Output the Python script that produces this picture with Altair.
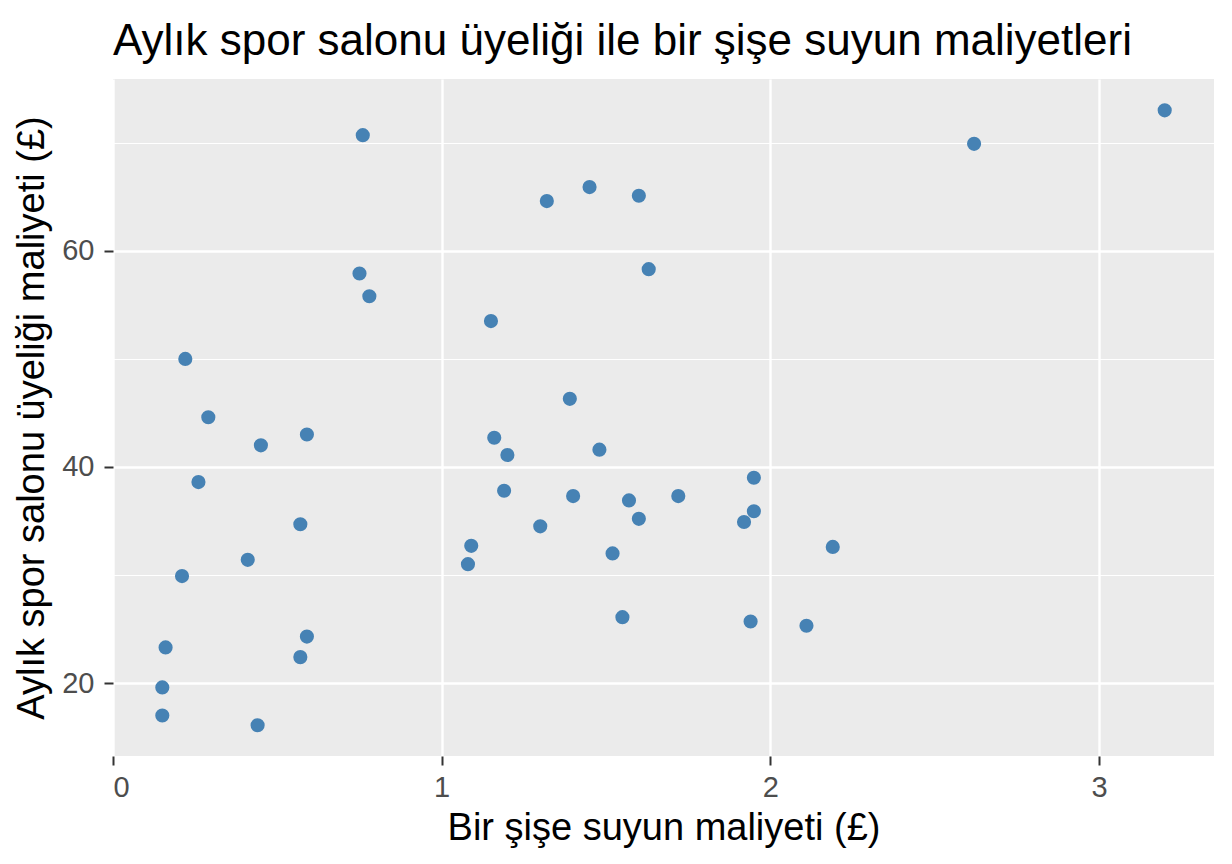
import altair as alt
import pandas as pd

# cost of one bottle of water (£)
water_cost = [0.76, 0.75, 0.78, 0.22, 0.29, 0.59, 0.45, 0.26, 0.57, 0.41,
              0.21, 0.59, 0.16, 0.57, 0.15, 0.15, 0.44, 1.32, 1.45, 1.60,
              1.63, 1.15, 1.39, 1.16, 1.20, 1.48, 1.95, 1.19, 1.40, 1.57,
              1.72, 1.95, 1.92, 1.60, 1.30, 1.09, 1.08, 1.52, 2.19, 1.55,
              1.94, 2.11, 2.62, 3.20]
# monthly gym membership (£)
gym_cost = [70.7, 57.9, 55.8, 50.0, 44.6, 43.0, 42.0, 38.6, 34.7, 31.4,
            29.9, 24.3, 23.3, 22.4, 19.6, 17.0, 16.1, 64.6, 65.9, 65.1,
            58.3, 53.5, 46.3, 42.7, 41.1, 41.6, 39.0, 37.8, 37.3, 36.9,
            37.3, 35.9, 34.9, 35.2, 34.5, 32.7, 31.0, 32.0, 32.6, 26.1,
            25.7, 25.3, 69.9, 73.0]

# major + minor grid positions (minor ones get no label)
x_ticks = [0, 0.5, 1, 1.5, 2, 2.5, 3]
y_ticks = [20, 30, 40, 50, 60, 70]

FONT = "Liberation Sans"
df = pd.DataFrame({"water": water_cost, "gym": gym_cost})


def by_minor(test, major_val, minor_val):
    # conditional axis property: minor lines/ticks differ from major ones
    return {"condition": {"test": test, "value": minor_val}, "value": major_val}


def gg_axis(minor_test, **kw):
    return alt.Axis(
        domain=False,
        grid=True,
        gridColor="white",
        gridWidth=by_minor(minor_test, 2.4, 1.2),
        tickColor="#333333",
        tickWidth=2,
        tickSize=9,
        tickOpacity=by_minor(minor_test, 1, 0),
        format="d",
        labelExpr=f"({minor_test}) ? '' : datum.label",
        labelFont=FONT,
        labelFontSize=29,
        labelColor="#4D4D4D",
        titleFont=FONT,
        titleFontSize=38,
        titleFontWeight="normal",
        titleColor="black",
        titleBaseline="alphabetic",
        **kw,
    )


chart = (
    alt.Chart(df)
    .mark_circle(size=200, color="#4682B4", opacity=1)
    .encode(
        alt.X(
            "water:Q",
            title="Bir şişe suyun maliyeti (£)",
            scale=alt.Scale(domain=[0, 3.35], nice=False, zero=False),
            axis=gg_axis("datum.value % 1 !== 0", values=x_ticks,
                         labelPadding=8, titleY=83),
        ),
        alt.Y(
            "gym:Q",
            title="Aylık spor salonu üyeliği maliyeti (£)",
            scale=alt.Scale(domain=[13.25, 75.9], nice=False, zero=False),
            axis=gg_axis("datum.value % 20 !== 0", values=y_ticks,
                         labelPadding=10, titleX=-70, titleY=338.5,
                         titleAngle=270),
        ),
    )
    .properties(
        width=1101,
        height=677,
        autosize="none",
        padding={"left": 105, "top": 71, "right": 8, "bottom": 98},
        title=alt.TitleParams(
            "Aylık spor salonu üyeliği ile bir şişe suyun maliyetleri",
            anchor="start",
            frame="group",
            font=FONT,
            fontSize=44,
            fontWeight="normal",
            color="black",
            baseline="alphabetic",
            offset=27,
            dy=47,
        ),
    )
    .configure_view(fill="#EBEBEB", strokeWidth=0)
)

chart.save("out.html", embed_options={"renderer": "svg", "actions": False})
